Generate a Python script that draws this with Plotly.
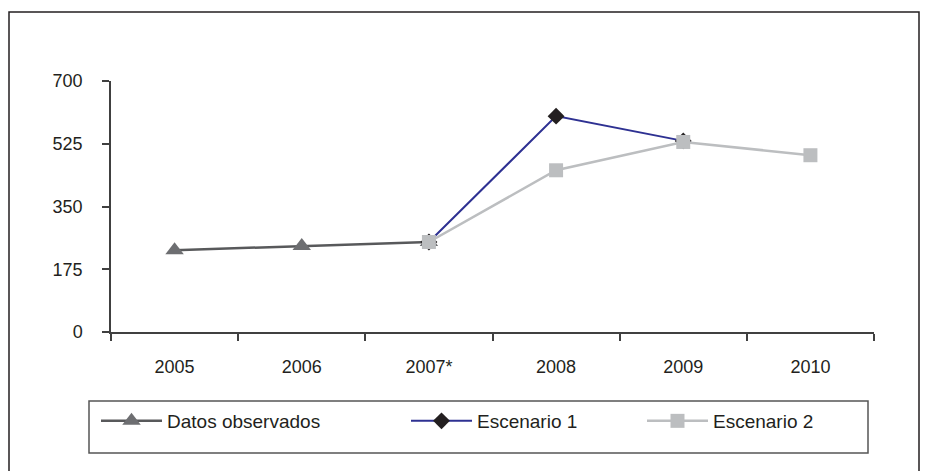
import plotly.graph_objects as go

categories = ["2005", "2006", "2007*", "2008", "2009", "2010"]
obs_x = ["2005", "2006", "2007*"]
obs_y = [228, 240, 251]
esc1_x = ["2007*", "2008", "2009"]
esc1_y = [251, 602, 533]
esc2_x = ["2007*", "2008", "2009", "2010"]
esc2_y = [251, 451, 530, 493]
y_ticks = [0, 175, 350, 525, 700]

FONT = "Liberation Sans, Arial, sans-serif"
TXT = "#231f20"

fig = go.Figure()
fig.add_trace(go.Scatter(
    x=obs_x, y=obs_y, name="Datos observados", mode="lines+markers",
    line=dict(color="#58595b", width=2.5),
    marker=dict(symbol="triangle-up", size=16, color="#6d6e71"),
    legend="legend"))
fig.add_trace(go.Scatter(
    x=esc1_x, y=esc1_y, name="Escenario 1", mode="lines+markers",
    line=dict(color="#2e3192", width=2),
    marker=dict(symbol="diamond", size=13, color="#231f20"),
    legend="legend2"))
fig.add_trace(go.Scatter(
    x=esc2_x, y=esc2_y, name="Escenario 2", mode="lines+markers",
    line=dict(color="#bcbec0", width=2.5),
    marker=dict(symbol="square", size=14, color="#bcbec0"),
    legend="legend3"))

# page has an 8px body margin; work in page coordinates and offset
OFF = 8
W, H = 928 - OFF, 471 - OFF
PL, PR, PT, PB = 111, 874, 81, 332  # plot area in page coords
L, T = PL - OFF, PT - OFF
R, B = W - (PR - OFF), H - (PB - OFF)
pw = W - L - R
ph = H - T - B

def px(x):
    return (x - OFF - L) / pw

def py(y):
    return (H - B - (y - OFF)) / ph

leg_common = dict(orientation="h", xanchor="left", yanchor="middle",
                  bgcolor="rgba(0,0,0,0)", borderwidth=0,
                  font=dict(family=FONT, size=19, color=TXT), itemwidth=61)

fig.update_layout(
    width=W, height=H,
    margin=dict(l=L, r=R, t=T, b=B),
    plot_bgcolor="white", paper_bgcolor="white",
    font=dict(family=FONT, size=18, color=TXT),
    showlegend=True,
    legend=dict(x=px(96), y=py(421), **leg_common),
    legend2=dict(x=px(406), y=py(421), **leg_common),
    legend3=dict(x=px(642), y=py(421), **leg_common),
    xaxis=dict(type="category", categoryorder="array", categoryarray=categories,
               range=[-0.5, 5.5], tickson="boundaries", ticks="outside",
               ticklen=7, tickwidth=1.5, tickcolor="#404040",
               showline=True, linecolor="#404040", linewidth=1.5,
               showgrid=False, zeroline=False, ticklabelstandoff=18,
               tickfont=dict(family=FONT, size=18, color=TXT)),
    yaxis=dict(range=[0, 700], tickvals=y_ticks, ticks="outside",
               ticklen=7, tickwidth=1.5, tickcolor="#404040",
               showline=True, linecolor="#404040", linewidth=1.5,
               showgrid=False, zeroline=False, ticklabelstandoff=16,
               tickfont=dict(family=FONT, size=18, color=TXT)),
    shapes=[
        dict(type="rect", xref="paper", yref="paper",
             x0=px(9), x1=px(919), y0=py(480), y1=py(12),
             line=dict(color="#231f20", width=1.5), fillcolor="rgba(0,0,0,0)",
             layer="below"),
        dict(type="rect", xref="paper", yref="paper",
             x0=px(89), x1=px(868), y0=py(453), y1=py(401),
             line=dict(color="#555555", width=1.5), fillcolor="rgba(0,0,0,0)",
             layer="below"),
    ],
)

fig.write_html("out.html")
